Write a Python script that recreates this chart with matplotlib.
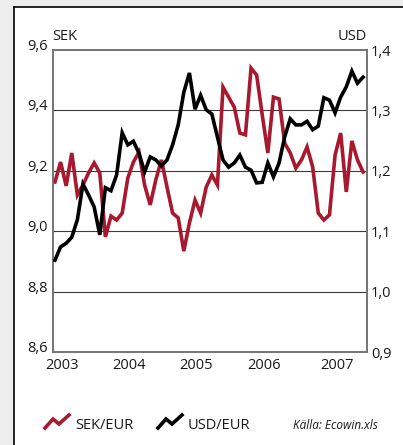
import numpy as np
import matplotlib
matplotlib.use("Agg")
import matplotlib.pyplot as plt
from matplotlib.patches import Rectangle
from matplotlib.lines import Line2D

plt.rcParams['font.family'] = ['Open Sans', 'DejaVu Sans']

# monthly observations, index 0 = first month of 2003
sek_eur = [9.163, 9.229, 9.150, 9.259, 9.120, 9.153, 9.193, 9.226, 9.193, 8.981,
           9.050, 9.037, 9.060, 9.176, 9.229, 9.262, 9.153, 9.087, 9.170, 9.236,
           9.146, 9.060, 9.044, 8.934, 9.027, 9.103, 9.060, 9.146, 9.186, 9.153,
           9.477, 9.444, 9.411, 9.325, 9.319, 9.540, 9.517, 9.385, 9.259, 9.444,
           9.438, 9.292, 9.259, 9.209, 9.236, 9.279, 9.213, 9.060, 9.037, 9.054,
           9.252, 9.325, 9.130, 9.299, 9.236, 9.196]
usd_eur = [1.052, 1.074, 1.080, 1.090, 1.119, 1.178, 1.160, 1.140, 1.094, 1.172,
           1.167, 1.193, 1.263, 1.243, 1.249, 1.229, 1.198, 1.223, 1.218, 1.208,
           1.218, 1.243, 1.276, 1.330, 1.362, 1.302, 1.325, 1.301, 1.294, 1.256,
           1.218, 1.206, 1.213, 1.226, 1.206, 1.201, 1.180, 1.181, 1.213, 1.190,
           1.213, 1.256, 1.286, 1.276, 1.276, 1.282, 1.268, 1.274, 1.321, 1.317,
           1.296, 1.322, 1.339, 1.365, 1.345, 1.355]
months = np.arange(len(sek_eur))

year_labels = ['2003', '2004', '2005', '2006', '2007']
year_pos = [1.2, 13.2, 25.2, 37.3, 50.4]

sek_ticks = [8.6, 8.8, 9.0, 9.2, 9.4, 9.6]
usd_ticks = [0.9, 1.0, 1.1, 1.2, 1.3, 1.4]

RED = '#a8182e'
W, H = 403, 445


def fx(px):
    return px / W


def fy(py):
    return 1 - py / H


def comma(v, n=1):
    return ('%.*f' % (n, v)).replace('.', ',')


fig = plt.figure(figsize=(W / 100, H / 100), dpi=100, facecolor='#ededed')

# white panel with a black frame on the left and top
fig.patches.append(Rectangle((fx(14), 0), 1 - fx(14), fy(7), transform=fig.transFigure,
                             facecolor='white', edgecolor='none', zorder=-5))
fig.lines.append(Line2D([fx(14), fx(14)], [0, fy(7)], transform=fig.transFigure, color='black', lw=1.2))
fig.lines.append(Line2D([fx(14), 1], [fy(7), fy(7)], transform=fig.transFigure, color='black', lw=1.2))

ax = fig.add_axes([fx(53), fy(352), fx(367) - fx(53), fy(50) - fy(352)])
ax.set_facecolor('none')
ax.plot(months, sek_eur, color=RED, lw=2.6, solid_joinstyle='miter', zorder=3)
ax.set_xlim(-0.35, 55.7)
ax.set_ylim(8.6, 9.6)
ax.set_yticks(sek_ticks)
ax.set_yticklabels([comma(v) for v in sek_ticks])
for lbl in ax.get_yticklabels():
    lbl.set_verticalalignment('baseline')
ax.set_xticks(year_pos)
ax.set_xticklabels(year_labels)
ax.tick_params(axis='both', length=0, labelsize=10.5, colors='#1a1a1a')
ax.tick_params(axis='y', pad=3.5)
ax.tick_params(axis='x', pad=4)
for y in sek_ticks[1:-1]:
    ax.axhline(y, color='#3c3c3c', lw=0.8, zorder=1)

ax2 = ax.twinx()
ax2.plot(months, usd_eur, color='black', lw=2.6, solid_joinstyle='miter', zorder=3)
ax2.set_ylim(0.9, 1.4)
ax2.set_yticks(usd_ticks)
ax2.set_yticklabels([comma(v) for v in usd_ticks])
ax2.tick_params(axis='y', length=0, labelsize=10.5, colors='#1a1a1a', pad=3)

for a in (ax, ax2):
    for s in a.spines.values():
        s.set_color('#707070')
        s.set_linewidth(1.1)

fig.text(fx(52), fy(40), 'SEK', fontsize=10.5, color='#1a1a1a', va='baseline', ha='left')
fig.text(fx(367), fy(40), 'USD', fontsize=10.5, color='#1a1a1a', va='baseline', ha='right')

# legend glyphs and labels
def glyph(x0, color):
    xs = [x0, x0 + 8, x0 + 14, x0 + 24]
    ys = [428, 419, 424, 415]
    fig.lines.append(Line2D([fx(v) for v in xs], [fy(v) for v in ys], transform=fig.transFigure,
                            color=color, lw=2.6, solid_joinstyle='miter'))

glyph(45, RED)
fig.text(fx(75), fy(429), 'SEK/EUR', fontsize=10.5, color='#1a1a1a', va='baseline')
glyph(158, 'black')
fig.text(fx(188), fy(429), 'USD/EUR', fontsize=10.5, color='#1a1a1a', va='baseline')
fig.text(fx(293), fy(429), 'Källa: Ecowin.xls', fontsize=8.5, style='italic',
         color='#1a1a1a', va='baseline')

fig.savefig('out.png', dpi=100, facecolor=fig.get_facecolor())
